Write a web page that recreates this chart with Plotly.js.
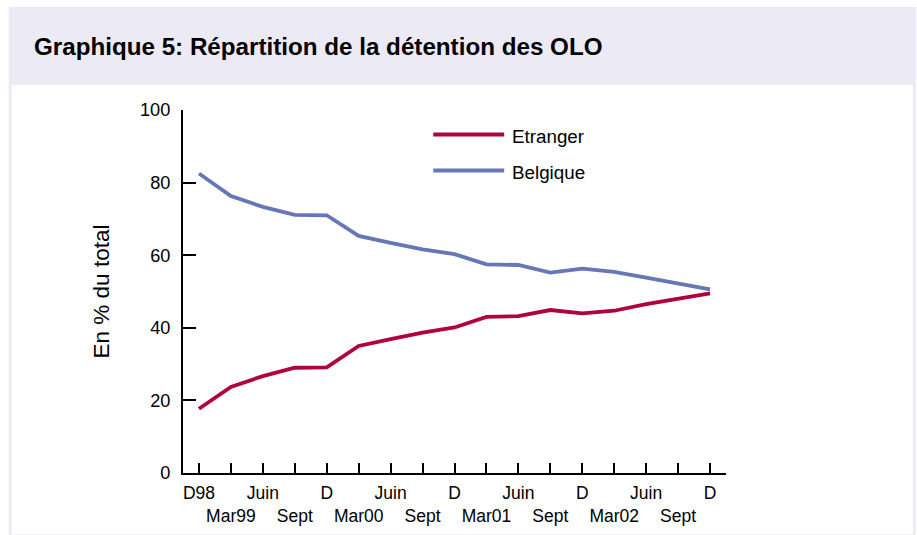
<!DOCTYPE html>
<html>
<head>
<meta charset="utf-8">
<script src="https://cdn.plot.ly/plotly-3.0.1.min.js"></script>
<style>
  html, body { margin: 0; padding: 0; background: #ffffff; }
  #chart { width: 917px; height: 535px; }
</style>
</head>
<body>
<div id="chart"></div>
<script>
// ---- Data ----
const periods = ["D98","Mar99","Juin99","Sept99","D99","Mar00","Juin00","Sept00","D00",
                 "Mar01","Juin01","Sept01","D01","Mar02","Juin02","Sept02","D02"];
const tickLabels = ["D98","<br>Mar99","Juin","<br>Sept","D","<br>Mar00","Juin","<br>Sept","D",
                    "<br>Mar01","Juin","<br>Sept","D","<br>Mar02","Juin","<br>Sept","D"];
const etranger = [17.7, 23.7, 26.7, 29.0, 29.1, 35.0, 36.9, 38.7, 40.1, 43.0, 43.2, 44.9, 44.0, 44.7, 46.5, 48.1, 49.5];
const belgique = [82.5, 76.3, 73.3, 71.1, 71.0, 65.3, 63.4, 61.6, 60.3, 57.5, 57.3, 55.2, 56.3, 55.4, 53.8, 52.2, 50.6];
const seriesNames = ["Etranger", "Belgique"];
const yTicks = [0, 20, 40, 60, 80, 100];

// ---- Styling / layout ----
const W = 917, H = 535;
const M = { l: 182.5, r: 191, t: 110, b: 62.3 };
const RED = "#b0023e", BLUE = "#6677b7", LAV = "#ecebf5";
const FONT = "Arial, 'Liberation Sans', Helvetica, sans-serif";

const pw = W - M.l - M.r, ph = H - M.t - M.b;
const px = x => (x - M.l) / pw;          // pixel -> paper x
const py = y => 1 - (y - M.t) / ph;      // pixel -> paper y

const traces = [
  { x: periods, y: etranger, name: seriesNames[0], type: "scatter", mode: "lines",
    line: { color: RED, width: 3.8 }, showlegend: false, hoverinfo: "x+y" },
  { x: periods, y: belgique, name: seriesNames[1], type: "scatter", mode: "lines",
    line: { color: BLUE, width: 3.8 }, showlegend: false, hoverinfo: "x+y" }
];

const shapes = [
  { type: "rect", xref: "paper", yref: "paper", layer: "below",
    x0: px(8), x1: px(916), y0: py(7), y1: py(535), fillcolor: LAV, line: { width: 0 } },
  { type: "rect", xref: "paper", yref: "paper", layer: "below",
    x0: px(11), x1: px(913), y0: py(85), y1: py(534), fillcolor: "#ffffff", line: { width: 0 } },
  // legend keys
  { type: "line", xref: "paper", yref: "paper", x0: px(433), x1: px(504), y0: py(134.5), y1: py(134.5),
    line: { color: RED, width: 4 } },
  { type: "line", xref: "paper", yref: "paper", x0: px(433), x1: px(504), y0: py(170.5), y1: py(170.5),
    line: { color: BLUE, width: 4 } }
];

const annotations = [
  { xref: "paper", yref: "paper", x: px(510), y: py(136.5), xanchor: "left", yanchor: "middle",
    text: seriesNames[0], showarrow: false, font: { family: FONT, size: 18.8, color: "#000" } },
  { xref: "paper", yref: "paper", x: px(510), y: py(172.5), xanchor: "left", yanchor: "middle",
    text: seriesNames[1], showarrow: false, font: { family: FONT, size: 18.8, color: "#000" } }
];

const layout = {
  width: W, height: H,
  margin: M,
  paper_bgcolor: "#ffffff",
  plot_bgcolor: "rgba(0,0,0,0)",
  font: { family: FONT, color: "#000" },
  title: {
    text: "<b>Graphique 5: Répartition de la détention des OLO</b>",
    font: { family: FONT, size: 24.2, color: "#000" },
    xref: "container", yref: "container",
    x: 34 / W, xanchor: "left",
    y: 1 - 47 / H, yanchor: "middle"
  },
  xaxis: {
    type: "category",
    range: [-0.5, 16.5],
    tickmode: "array", tickvals: periods, ticktext: tickLabels,
    tickangle: 0,
    ticks: "inside", ticklen: 10, tickwidth: 2, tickcolor: "#000",
    showline: true, linecolor: "#000", linewidth: 2,
    showgrid: false, zeroline: false,
    tickfont: { family: FONT, size: 17.5, color: "#000" },
    ticklabelstandoff: 3,
    fixedrange: true
  },
  yaxis: {
    range: [0, 100],
    tickmode: "array", tickvals: yTicks, ticktext: yTicks.map(String),
    ticks: "inside", ticklen: 13, tickwidth: 2, tickcolor: "#000",
    showline: true, linecolor: "#000", linewidth: 2,
    showgrid: false, zeroline: false,
    tickfont: { family: FONT, size: 18.2, color: "#000" },
    ticklabelstandoff: 7,
    title: { text: "En % du total", font: { family: FONT, size: 22.5, color: "#000" }, standoff: 24 },
    fixedrange: true
  },
  shapes: shapes,
  annotations: annotations
};

Plotly.newPlot("chart", traces, layout, { displayModeBar: false, staticPlot: true });
</script>
</body>
</html>
